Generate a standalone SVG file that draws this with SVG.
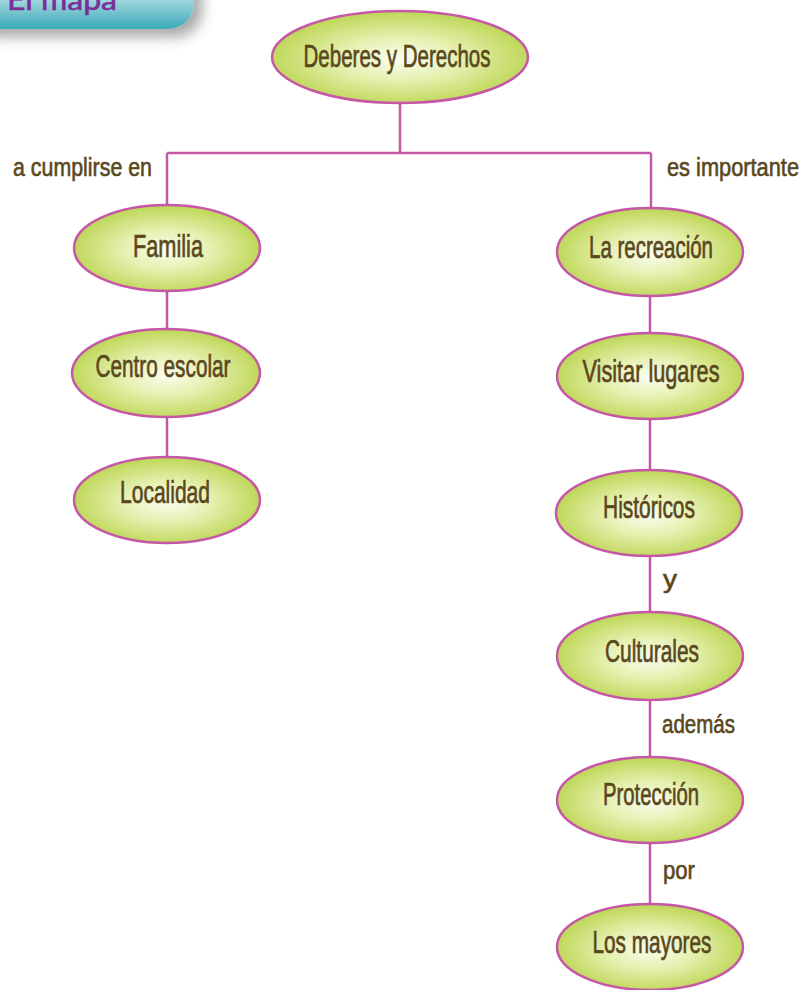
<svg xmlns="http://www.w3.org/2000/svg" width="801" height="990" viewBox="0 0 801 990">
<defs>
<radialGradient id="eg" cx="50%" cy="52%" r="52%">
<stop offset="0" stop-color="#fbfdf0"/>
<stop offset="0.45" stop-color="#e6f0b0"/>
<stop offset="1" stop-color="#bdd655"/>
</radialGradient>
<linearGradient id="hg" x1="0" y1="0" x2="0" y2="1">
<stop offset="0" stop-color="#ffffff"/>
<stop offset="0.35" stop-color="#d8eef0"/>
<stop offset="1" stop-color="#3aaab9"/>
</linearGradient>
<filter id="sh" x="-20%" y="-50%" width="150%" height="250%">
<feGaussianBlur in="SourceAlpha" stdDeviation="7"/>
<feOffset dx="8" dy="8" result="b"/>
<feComponentTransfer><feFuncA type="linear" slope="0.35"/></feComponentTransfer>
<feMerge><feMergeNode/><feMergeNode in="SourceGraphic"/></feMerge>
</filter>
</defs>
<style>
.node ellipse{fill:url(#eg);stroke:#c557a6;stroke-width:2.5}
.t{font-family:"Liberation Sans",Arial,sans-serif;font-size:32px;fill:#5a481d;stroke:#5a481d;stroke-width:0.7;text-anchor:middle}
.lb{font-family:"Liberation Sans",Arial,sans-serif;font-size:25px;fill:#5a481d;stroke:#5a481d;stroke-width:0.6}
.conn path{fill:none;stroke:#c557a6;stroke-width:2.5}
</style>
<rect width="801" height="990" fill="#ffffff"/>
<g id="header">
<rect x="-40" y="-40" width="234" height="69" rx="26" fill="url(#hg)" filter="url(#sh)"/>
<text x="7" y="10" font-family="Lato,'Liberation Sans',sans-serif" font-size="29" fill="#7a2f9a" stroke="#7a2f9a" stroke-width="0.6" textLength="110" lengthAdjust="spacingAndGlyphs">El mapa</text>
</g>
<g id="connectors" class="conn">
<path d="M400 103V153M167 153H651M167 153V205M651 153V208"/>
<path d="M167 291V329M167 417V457"/>
<path d="M650 296V333M650 419V470M650 556V612M650 700V757M650 843V904"/>
</g>
<g id="labels">
<text class="lb" x="13" y="176" textLength="139" lengthAdjust="spacingAndGlyphs">a cumplirse en</text>
<text class="lb" x="667" y="176" textLength="132" lengthAdjust="spacingAndGlyphs">es importante</text>
<text class="lb" x="663" y="588" textLength="14" lengthAdjust="spacingAndGlyphs">y</text>
<text class="lb" x="662" y="733" textLength="73" lengthAdjust="spacingAndGlyphs">además</text>
<text class="lb" x="663" y="879" textLength="32" lengthAdjust="spacingAndGlyphs">por</text>
</g>
<g id="n-deberes" class="node"><ellipse cx="400" cy="57" rx="128" ry="46"/><text class="t" x="397" y="67" textLength="187" lengthAdjust="spacingAndGlyphs">Deberes y Derechos</text></g>
<g id="n-familia" class="node"><ellipse cx="167" cy="248" rx="93" ry="43"/><text class="t" x="168" y="257" textLength="70" lengthAdjust="spacingAndGlyphs">Familia</text></g>
<g id="n-centro" class="node"><ellipse cx="166" cy="373" rx="94" ry="44"/><text class="t" x="163" y="377" textLength="135" lengthAdjust="spacingAndGlyphs">Centro escolar</text></g>
<g id="n-localidad" class="node"><ellipse cx="167" cy="500" rx="93" ry="43"/><text class="t" x="165" y="503" textLength="90" lengthAdjust="spacingAndGlyphs">Localidad</text></g>
<g id="n-recreacion" class="node"><ellipse cx="650" cy="252" rx="93" ry="44"/><text class="t" x="651" y="258" textLength="124" lengthAdjust="spacingAndGlyphs">La recreación</text></g>
<g id="n-visitar" class="node"><ellipse cx="650" cy="376" rx="93" ry="43"/><text class="t" x="651" y="382" textLength="137" lengthAdjust="spacingAndGlyphs">Visitar lugares</text></g>
<g id="n-historicos" class="node"><ellipse cx="649" cy="513" rx="93" ry="43"/><text class="t" x="649" y="518" textLength="92" lengthAdjust="spacingAndGlyphs">Históricos</text></g>
<g id="n-culturales" class="node"><ellipse cx="650" cy="656" rx="93" ry="44"/><text class="t" x="652" y="662" textLength="94" lengthAdjust="spacingAndGlyphs">Culturales</text></g>
<g id="n-proteccion" class="node"><ellipse cx="650" cy="800" rx="93" ry="43"/><text class="t" x="651" y="805" textLength="96" lengthAdjust="spacingAndGlyphs">Protección</text></g>
<g id="n-mayores" class="node"><ellipse cx="650" cy="947" rx="93" ry="43"/><text class="t" x="652" y="953" textLength="119" lengthAdjust="spacingAndGlyphs">Los mayores</text></g>
</svg>
